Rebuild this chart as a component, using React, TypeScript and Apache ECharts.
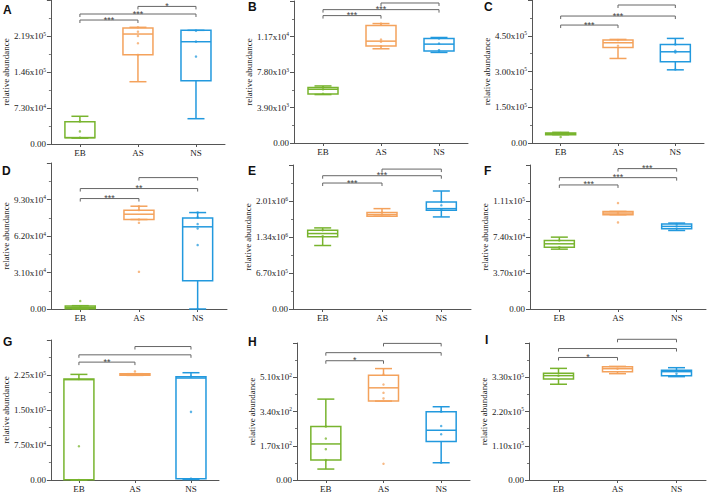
import React, { useEffect, useRef } from "react";
import * as echarts from "echarts";

const CATEGORIES = ["EB", "AS", "NS"];
const PANEL_LETTERS = ["A", "B", "C", "D", "E", "F", "G", "H", "I"];
const TICK_STEPS = [73000, 3900, 150000, 31000, 670000, 37000, 75000, 170, 110000];

// box stats per group: [min, Q1, median, Q3, max]
const boxA = [[12000, 12500, 13000, 45200, 56200], [126300, 181000, 223000, 235200, 236600], [51300, 128400, 207400, 230500, 230500]];
const boxB = [[5321, 5394, 5905, 6087, 6269], [10351, 10643, 11190, 12903, 13121], [9950, 10096, 10862, 11481, 11591]];
const boxC = [[35000, 35000, 39250, 42000, 44860], [354700, 401000, 420600, 431800, 434600], [307000, 340700, 382700, 413600, 438800]];
const boxD = [[0, 200, 1400, 2540, 2830], [76000, 76000, 80500, 83900, 87300], [0, 24000, 69800, 77200, 81900]];
const boxE = [[1181600, 1342500, 1404000, 1466000, 1509500], [1726000, 1726000, 1757000, 1794000, 1868000], [1713600, 1837000, 1868000, 1992000, 2196000]];
const boxF = [[61500, 63560, 67000, 70430, 73860], [96900, 96900, 98600, 100300, 100300], [80700, 82500, 84900, 87300, 88300]];
const boxG = [[0, 700, 215000, 216400, 226300], [224200, 224200, 226300, 227800, 227800], [1000, 2800, 218500, 221400, 229900]];
const boxH = [[54.3, 98.7, 179, 265, 401.5], [391.7, 391.7, 457.5, 520, 553], [85.6, 190.9, 246.9, 339, 363.7]];
const boxI = [[307600, 324600, 335200, 342600, 358500], [341500, 347900, 357500, 363800, 364900], [332000, 335200, 348000, 352200, 360700]];

// individual sample points per group
const pointsA = [[45800, 25600, 12800], [236600, 227800, 219000, 204300, 180600], [229900, 207600, 177300]];
const pointsB = [[6120, 5900, 5400], [13120, 11370, 11120, 10640], [11480, 10930, 10200]];
const pointsC = [[25230, 42060], [431800, 408000], [413600, 386900, 379900, 308400]];
const pointsD = [[6800, 2000], [87300, 84000, 76000, 73200, 31600], [82000, 77800, 72100, 68400, 54300, 0]];
const pointsE = [[1466000, 1355000], [1794000, 1757000], [1992000, 1930000, 1850000]];
const pointsF = [[70430, 63560], [108900, 98600, 89000], [87300, 84900]];
const pointsG = [[216400, 72300, 0], [232700, 226300], [221400, 146000, 2800]];
const pointsH = [[265, 205.7, 153, 98.7], [523, 474, 432.8, 404.8, 80.6], [339, 268, 227, 85.6]];
const pointsI = [[335200], [357500], [341500]];

// significance brackets: [fromGroup, toGroup, level, label]
const bracketsA = [[0, 1, 251400, "***"], [0, 2, 263600, "***"], [1, 2, 279000, "*"]];
const bracketsB = [[0, 1, 13996, "***"], [0, 2, 14652, "***"], [1, 2, 15381, ""]];
const bracketsC = [[0, 1, 494900, "***"], [0, 2, 532700, "***"], [1, 2, 579000, ""]];
const bracketsD = [[0, 1, 93800, "***"], [0, 2, 102300, "**"], [1, 2, 111600, ""]];
const bracketsE = [[0, 1, 2344600, "***"], [0, 2, 2480600, "***"], [1, 2, 2604000, ""]];
const bracketsF = [[0, 1, 127500, "***"], [0, 2, 135000, "***"], [1, 2, 144300, "***"]];
const bracketsG = [[0, 1, 252600, "**"], [0, 2, 268200, ""], [1, 2, 286000, ""]];
const bracketsH = [[0, 1, 592, "*"], [0, 2, 632, ""], [1, 2, 678, ""]];
const bracketsI = [[0, 1, 393500, "*"], [0, 2, 422200, ""], [1, 2, 451900, ""]];

const BOXES = [boxA, boxB, boxC, boxD, boxE, boxF, boxG, boxH, boxI];
const POINTS = [pointsA, pointsB, pointsC, pointsD, pointsE, pointsF, pointsG, pointsH, pointsI];
const BRACKETS = [bracketsA, bracketsB, bracketsC, bracketsD, bracketsE, bracketsF, bracketsG, bracketsH, bracketsI];

const COLORS = ["#78b42e", "#f4a25c", "#2299de"];

const GRIDS = [
  { left: 48, top: 0, width: 177, height: 144 },
  { left: 294, top: 1, width: 174, height: 142 },
  { left: 532, top: 0, width: 172, height: 143 },
  { left: 49, top: 163, width: 178, height: 146 },
  { left: 293, top: 165, width: 178, height: 144 },
  { left: 530, top: 165, width: 176, height: 144 },
  { left: 45, top: 340, width: 174, height: 141 },
  { left: 297, top: 343, width: 173, height: 138 },
  { left: 529, top: 343, width: 177, height: 138 },
];
const LETTER_POS = [
  [3, 4], [248, 1], [484, 1], [2, 165], [248, 165], [484, 165], [3, 336], [248, 336], [485, 334],
];

const SERIF = "'Liberation Serif', 'Times New Roman', serif";

function fmtTick(v: number): string {
  if (v === 0) return "{a|0.00}";
  const e = Math.floor(Math.log10(Math.abs(v)) + 1e-9);
  const m = v / Math.pow(10, e);
  return "{a|" + m.toFixed(2) + "x10}{s|" + e + "}";
}

function buildOption() {
  const grid: any[] = [];
  const xAxis: any[] = [];
  const yAxis: any[] = [];
  const series: any[] = [];
  const graphic: any[] = [];

  for (let p = 0; p < 9; p++) {
    const g = GRIDS[p];
    grid.push({ left: g.left, top: g.top, width: g.width, height: g.height });
    xAxis.push({
      type: "category",
      gridIndex: p,
      data: CATEGORIES,
      axisLine: { lineStyle: { color: "#555", width: 1 } },
      axisTick: { show: true, alignWithLabel: true, length: 3, lineStyle: { color: "#555" } },
      axisLabel: { fontFamily: SERIF, fontSize: 9, color: "#222", margin: 4 },
      splitLine: { show: false },
    });
    const step = TICK_STEPS[p];
    yAxis.push({
      type: "value",
      gridIndex: p,
      min: 0,
      max: step * 4,
      interval: step,
      name: "relative abundance",
      nameLocation: "middle",
      nameGap: 36,
      nameTextStyle: { fontFamily: SERIF, fontSize: 9, color: "#222" },
      axisLine: { show: true, lineStyle: { color: "#555", width: 1 } },
      axisTick: { show: true, length: 4, lineStyle: { color: "#555" } },
      minorTick: { show: true, splitNumber: 2, length: 2, lineStyle: { color: "#777" } },
      splitLine: { show: false },
      axisLabel: {
        showMaxLabel: false,
        margin: 5,
        formatter: (v: number) => fmtTick(v),
        rich: {
          a: { fontFamily: SERIF, fontSize: 9, color: "#222", lineHeight: 11 },
          s: { fontFamily: SERIF, fontSize: 5.5, color: "#222", verticalAlign: "top", lineHeight: 11, padding: [0, 0, 4, 0] },
        },
      },
    });

    const boxes = BOXES[p];
    const boxData = boxes.map((b, i) => [i, b[0], b[1], b[2], b[3], b[4]]);
    series.push({
      type: "custom",
      xAxisIndex: p,
      yAxisIndex: p,
      data: boxData,
      clip: false,
      silent: true,
      renderItem: (params: any, api: any) => {
        const idx = api.value(0);
        const color = COLORS[idx];
        const pMin = api.coord([idx, api.value(1)]);
        const pQ1 = api.coord([idx, api.value(2)]);
        const pMed = api.coord([idx, api.value(3)]);
        const pQ3 = api.coord([idx, api.value(4)]);
        const pMax = api.coord([idx, api.value(5)]);
        const cx = pMed[0];
        const hw = 15;
        const cw = 8.5;
        const ls = { stroke: color, lineWidth: 1.5, fill: "none" };
        return {
          type: "group",
          children: [
            { type: "rect", shape: { x: cx - hw, y: pQ3[1], width: hw * 2, height: Math.max(pQ1[1] - pQ3[1], 0.5) }, style: ls },
            { type: "line", shape: { x1: cx - hw, y1: pMed[1], x2: cx + hw, y2: pMed[1] }, style: ls },
            { type: "line", shape: { x1: cx, y1: pQ3[1], x2: cx, y2: pMax[1] }, style: ls },
            { type: "line", shape: { x1: cx, y1: pQ1[1], x2: cx, y2: pMin[1] }, style: ls },
            { type: "line", shape: { x1: cx - cw, y1: pMax[1], x2: cx + cw, y2: pMax[1] }, style: ls },
            { type: "line", shape: { x1: cx - cw, y1: pMin[1], x2: cx + cw, y2: pMin[1] }, style: ls },
          ],
        };
      },
    });

    const pts = POINTS[p];
    for (let i = 0; i < 3; i++) {
      series.push({
        type: "scatter",
        xAxisIndex: p,
        yAxisIndex: p,
        data: pts[i].map((v) => [i, v]),
        symbolSize: 2.5,
        itemStyle: { color: COLORS[i], opacity: 0.75 },
        silent: true,
        clip: false,
      });
    }

    const br = BRACKETS[p];
    series.push({
      type: "custom",
      xAxisIndex: p,
      yAxisIndex: p,
      data: br.map((b) => [b[0], b[1], b[2]]),
      clip: false,
      silent: true,
      renderItem: (params: any, api: any) => {
        const a = api.coord([api.value(0), api.value(2)]);
        const b = api.coord([api.value(1), api.value(2)]);
        const label = br[params.dataIndex][3] as string;
        const leg = 3;
        const children: any[] = [
          {
            type: "polyline",
            shape: { points: [[a[0], a[1] + leg], [a[0], a[1]], [b[0], b[1]], [b[0], b[1] + leg]] },
            style: { stroke: "#666", lineWidth: 1, fill: "none" },
          },
        ];
        if (label) {
          children.push({
            type: "text",
            x: (a[0] + b[0]) / 2,
            y: a[1] + 4,
            style: {
              text: label,
              fill: "#444",
              fontSize: 9,
              fontFamily: "'Liberation Sans', Arial, sans-serif",
              align: "center",
              verticalAlign: "bottom",
            },
          });
        }
        return { type: "group", children };
      },
    });

    graphic.push({
      type: "text",
      left: LETTER_POS[p][0],
      top: LETTER_POS[p][1],
      style: {
        text: PANEL_LETTERS[p],
        fontSize: 12,
        fontWeight: "bold",
        fontFamily: "'Liberation Sans', Arial, sans-serif",
        fill: "#111",
      },
    });
  }

  return {
    animation: false,
    backgroundColor: "#ffffff",
    grid,
    xAxis,
    yAxis,
    series,
    graphic,
  };
}

export default function App() {
  const ref = useRef<HTMLDivElement>(null);
  useEffect(() => {
    if (!ref.current) return;
    const chart = echarts.init(ref.current, undefined, { renderer: "svg" });
    chart.setOption(buildOption() as any);
    return () => chart.dispose();
  }, []);
  return (
    <div
      ref={ref}
      style={{ position: "fixed", left: 0, top: 0, width: 708, height: 493, background: "#fff" }}
    />
  );
}
